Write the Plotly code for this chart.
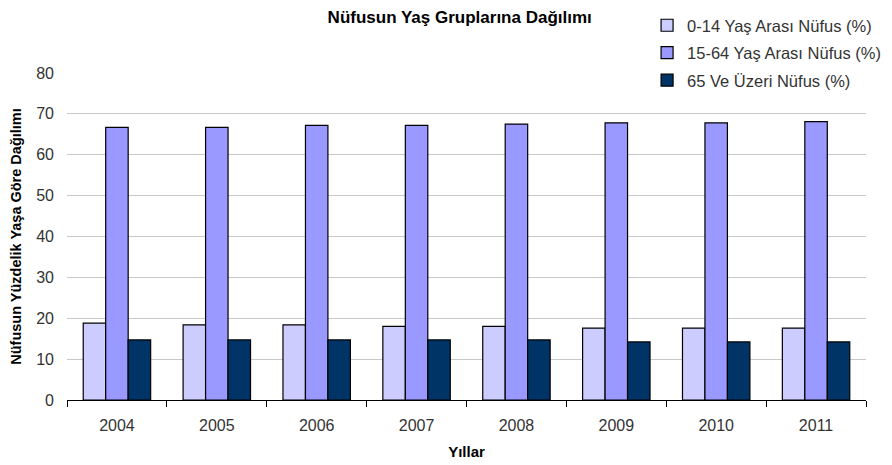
import plotly.graph_objects as go

years = ["2004", "2005", "2006", "2007", "2008", "2009", "2010", "2011"]
age_0_14 = [18.8, 18.4, 18.4, 18.0, 18.0, 17.6, 17.6, 17.6]
age_15_64 = [66.7, 66.7, 67.2, 67.2, 67.5, 67.8, 67.8, 68.1]
age_65_plus = [14.7, 14.7, 14.7, 14.7, 14.7, 14.2, 14.2, 14.2]

series_names = ["0-14 Yaş Arası Nüfus (%)", "15-64 Yaş Arası Nüfus (%)", "65 Ve Üzeri Nüfus (%)"]
colors = ["#CCCCFF", "#9999FF", "#003366"]

fig = go.Figure()
for i, (name, vals) in enumerate(zip(series_names, [age_0_14, age_15_64, age_65_plus])):
    fig.add_trace(go.Bar(
        x=years, y=vals, name=name, legendgroup=str(i),
        marker=dict(color=colors[i], line=dict(color="#000000", width=1.2)),
    ))

# page body has an 8px default margin, so the figure is 8px smaller
fig.update_layout(
    width=884, height=457,
    margin=dict(l=59, r=26, t=65, b=65, autoexpand=False),
    paper_bgcolor="white", plot_bgcolor="white",
    barmode="group", bargap=0.325, bargroupgap=0,
    font=dict(family="Liberation Sans, Arial, sans-serif", size=16, color="#333333"),
    title=dict(text="<b>Nüfusun Yaş Gruplarına Dağılımı</b>", x=0.511, xanchor="center",
               y=0.993, yref="container", yanchor="top", pad=dict(t=0, b=0),
               font=dict(size=17, color="#000000")),
    legend=dict(x=0.726, xanchor="left", y=1.0, yanchor="top", yref="container",
                font=dict(size=16.5, color="#333333"), tracegroupgap=3, itemwidth=30,
                bgcolor="rgba(0,0,0,0)"),
    xaxis=dict(
        title=dict(text="<b>Yıllar</b>", font=dict(size=15, color="#000000"), standoff=13),
        showline=True, linecolor="#000000", linewidth=1,
        ticks="outside", tickson="boundaries", ticklen=6, tickcolor="#000000",
        showgrid=False, ticklabelstandoff=11,
    ),
    yaxis=dict(
        title=dict(text="<b>Nüfusun Yüzdelik Yaşa Göre Dağılımı</b>", font=dict(size=14.5, color="#000000"), standoff=12),
        range=[0, 80], dtick=10, showgrid=True, gridcolor="#C8C8C8", gridwidth=1,
        showline=False, zeroline=False, ticks="", ticklabelstandoff=12,
    ),
)

fig.write_html("out.html")
